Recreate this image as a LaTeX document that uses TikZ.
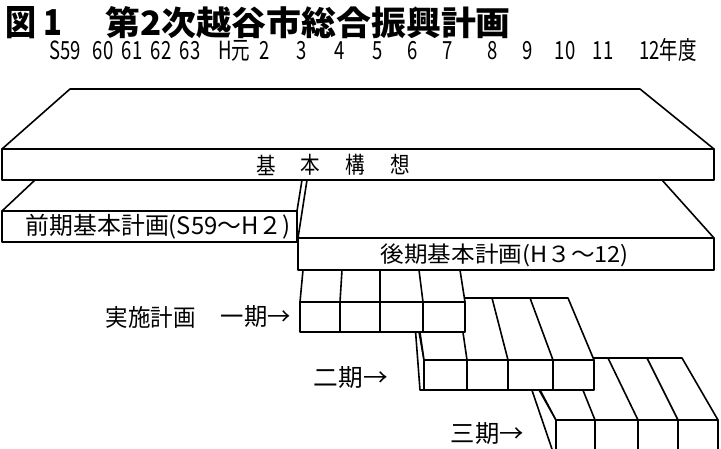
\documentclass[tikz,border=0pt]{standalone}
\usepackage{fontspec}
\usepackage{graphicx}
\newfontfamily\jp{Noto Sans CJK JP}
\begin{document}
\begin{tikzpicture}[x=1pt,y=-1pt, line width=1.6pt, line join=round,
  face/.style={draw=black, fill=white},
  lbl/.style={inner sep=0pt, anchor=west},
  yr/.style={inner sep=0pt, anchor=base, text height=18pt, text depth=0pt,
    font=\fontsize{25}{25}\selectfont\jp},
  kanji/.style={inner sep=0pt, font=\fontsize{23}{23}\selectfont\jp}]
\fill[white] (0,0) rectangle (721,448);
\useasboundingbox (0,0) rectangle (721,448);
\clip (0,0) rectangle (721,448);

% title
\node[lbl, anchor=base west, text height=29pt, text depth=0pt] (fig) at (5,35)
  {\resizebox{57pt}{29pt}{\jp\bfseries 図 1}};
\node[lbl, anchor=base west, text height=29pt, text depth=0pt] (title) at (105,35)
  {\resizebox{405pt}{29pt}{\jp\bfseries 第2次越谷市総合振興計画}};

% years
\foreach \t/\x [count=\i] in {S59/65, 60/103, 61/132, 62/161, 63/190, H元/234, 2/265, 3/302, 4/340, 5/378, 6/413, 7/448, 8/493, 9/528, 10/565, 11/603, 12年度/668}
  \node[yr] (yr\i) at (\x,59) {\scalebox{0.74}[1]{\t}};

% third period
\draw[face] (521,358) -- (556,420) -- (556,452) -- (553,452) -- cycle;
\draw[face] (523,358) -- (682,358) -- (718,420) -- (556,420) -- cycle;
\draw (570,358) -- (595,420);
\draw (608,358) -- (638,420);
\draw (647,358) -- (678,420);
\draw[face] (556,420) rectangle (718,460);
\foreach \x in {595,638,678} \draw (\x,420) -- (\x,460);

% second period
\draw[face] (413,298) -- (424,360) -- (424,390) -- (420,390) -- cycle;
\draw[face] (415,298) -- (568,298) -- (594,360) -- (424,360) -- cycle;
\draw (458,298) -- (467,360);
\draw (492,298) -- (508,360);
\draw (530,298) -- (553,360);
\draw[face] (424,360) rectangle (594,390);
\foreach \x in {467,508,553} \draw (\x,360) -- (\x,390);

% first period
\draw[face] (303,270) -- (460,270) -- (465,302) -- (300,302) -- cycle;
\draw (342,270) -- (340,302);
\draw (380,270) -- (380,302);
\draw (419,270) -- (423,302);
\draw[face] (300,302) rectangle (465,332);
\foreach \x in {340,380,423} \draw (\x,302) -- (\x,332);

% later basic plan
\draw[face] (307,180) -- (662,180) -- (714,238) -- (298,238) -- cycle;
\draw[face] (298,238) rectangle (714,270);
\node[lbl] (kouki) at (380,255) {\resizebox*{248pt}{23pt}{\jp 後期基本計画(H３～12)}};

% earlier basic plan
\draw[face] (35,180) -- (302,180) -- (297,211) -- (2,211) -- cycle;
\draw[face] (2,211) rectangle (297,242);
\node[lbl] (zenki) at (25,227) {\resizebox*{265pt}{25pt}{\jp 前期基本計画(S59～H２)}};

% basic concept
\draw[face] (70,89) -- (640,89) -- (714,149) -- (2,149) -- cycle;
\draw[face] (2,149) rectangle (714,180);
\foreach \t/\x [count=\i] in {基/266, 本/310, 構/355, 想/400}
  \node[kanji] (k\i) at (\x,165) {\scalebox{0.85}[1]{\t}};

% labels
\node[lbl] (jisshi) at (105,317) {\resizebox*{90pt}{22pt}{\jp 実施計画}};
\node[lbl] (ki1) at (220,317) {\resizebox*{70pt}{22pt}{\jp 一期→}};
\node[lbl] (ki2) at (313,378) {\resizebox*{74pt}{22pt}{\jp 二期→}};
\node[lbl] (ki3) at (450,434) {\resizebox*{73pt}{22pt}{\jp 三期→}};
\end{tikzpicture}
\end{document}
